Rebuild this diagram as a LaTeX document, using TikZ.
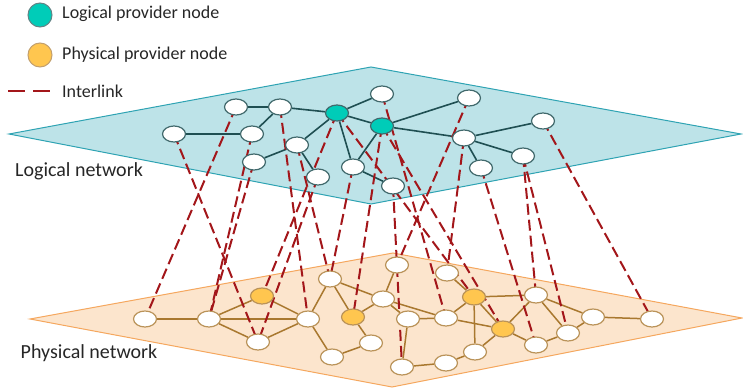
\documentclass[tikz,border=0pt]{standalone}
\usepackage{fontspec}
\setmainfont{Carlito}
\usetikzlibrary{shapes.geometric}

\definecolor{topfill}{HTML}{BDE3E8}
\definecolor{topline}{HTML}{2EA3B3}
\definecolor{botfill}{HTML}{FCE5CD}
\definecolor{botline}{HTML}{F5A75E}
\definecolor{ledgecol}{HTML}{1F4F52}
\definecolor{pedgecol}{HTML}{A9782F}
\definecolor{lprovcol}{HTML}{00CCB8}
\definecolor{pprovcol}{HTML}{FFC64F}
\definecolor{linkcol}{HTML}{A3161A}
\definecolor{txtcol}{HTML}{262626}

\pgfdeclarelayer{back}
\pgfdeclarelayer{mid}
\pgfsetlayers{back,mid,main}

\begin{document}
\begin{tikzpicture}[x=1pt, y=-1pt,
lnode/.style={ellipse, draw=ledgecol!85, line width=1.2pt, fill=white, minimum width=23pt, minimum height=16pt, inner sep=0pt},
lprov/.style={lnode, fill=lprovcol},
pnode/.style={ellipse, draw=pedgecol!80, line width=1.2pt, fill=white, minimum width=23pt, minimum height=16pt, inner sep=0pt},
pprov/.style={pnode, fill=pprovcol},
ledge/.style={draw=ledgecol, line width=1.6pt},
pedge/.style={draw=pedgecol, line width=1.5pt},
interlink/.style={draw=linkcol, line width=2pt, dash pattern=on 11pt off 5pt},
label/.style={text=txtcol, font=\fontsize{18}{21}\selectfont, inner sep=0pt},
netlabel/.style={text=txtcol, font=\fontsize{20}{24}\selectfont, inner sep=0pt}
]
\useasboundingbox (0,0) rectangle (743,390);

% legend
\node[circle, draw=ledgecol!70, line width=1pt, fill=lprovcol, minimum size=24pt] (legl) at (40,15) {};
\node[label, anchor=west] (legltxt) at (62,14) {Logical provider node};
\node[circle, draw=pedgecol!70, line width=1pt, fill=pprovcol, minimum size=24pt] (legp) at (40,55) {};
\node[label, anchor=west] (legptxt) at (62,55) {Physical provider node};
\coordinate (legia) at (8,91);
\coordinate (legib) at (50,91);
\draw[interlink, dash pattern=on 17pt off 8pt] (legia) -- (legib);
\node[label, anchor=west] (legitxt) at (62,91) {Interlink};

% planes
\begin{pgfonlayer}{back}
\draw[topline, fill=topfill, line width=1pt] (9,134) -- (371,67) -- (741,134) -- (371,204) -- cycle;
\draw[botline, fill=botfill, line width=1pt] (30,319) -- (393,253) -- (742,318) -- (392,387) -- cycle;
\end{pgfonlayer}

\node[netlabel] (lognet) at (79,171) {Logical network};
\node[netlabel] (phynet) at (89,353) {Physical network};

% logical network
\node[lnode] (l1) at (174,134) {};
\node[lnode] (l2) at (236,107) {};
\node[lnode] (l3) at (280,107) {};
\node[lnode] (l4) at (252,134) {};
\node[lnode] (l5) at (297,145) {};
\node[lnode] (l6) at (254,162) {};
\node[lnode] (l7) at (318,177) {};
\node[lprov] (p1) at (337,113) {};
\node[lprov] (p2) at (382,126) {};
\node[lnode] (l8) at (382,94) {};
\node[lnode] (l9) at (353,167) {};
\node[lnode] (l10) at (393,186) {};
\node[lnode] (l11) at (469,98) {};
\node[lnode] (l12) at (464,138) {};
\node[lnode] (l13) at (543,121) {};
\node[lnode] (l14) at (523,156) {};
\node[lnode] (l15) at (481,168) {};

% physical network
\node[pnode] (b1) at (145,319) {};
\node[pnode] (b2) at (209,319) {};
\node[pprov] (q1) at (262,296) {};
\node[pnode] (b3) at (258,342) {};
\node[pnode] (b4) at (308,319) {};
\node[pnode] (b5) at (330,279) {};
\node[pprov] (q2) at (353,317) {};
\node[pnode] (b6) at (332,357) {};
\node[pnode] (b7) at (397,265) {};
\node[pnode] (b8) at (383,299) {};
\node[pnode] (b9) at (371,343) {};
\node[pnode] (b10) at (408,319) {};
\node[pnode] (b11) at (447,273) {};
\node[pprov] (q3) at (474,297) {};
\node[pnode] (b12) at (446,318) {};
\node[pprov] (q4) at (503,329) {};
\node[pnode] (b13) at (536,295) {};
\node[pnode] (b14) at (593,317) {};
\node[pnode] (b15) at (652,319) {};
\node[pnode] (b16) at (568,333) {};
\node[pnode] (b17) at (536,345) {};
\node[pnode] (b18) at (475,352) {};
\node[pnode] (b19) at (446,363) {};
\node[pnode] (b20) at (402,367) {};

\begin{pgfonlayer}{mid}
\foreach \a/\b in {l1/l4, l4/l3, l2/l3, l3/p1, p1/l8, p1/p2, p1/l5, l5/l6, l5/l7, p1/l9, p2/l9, l9/l10, p2/l11, p2/l12, l12/l13, l12/l14, l12/l15}
  \draw[ledge] (\a) -- (\b);
\foreach \a/\b in {b1/b2, b2/b4, b2/q1, b2/b3, q1/b4, b3/b4, b4/b5, b4/b6, b5/b8, b5/q2, q2/b8, q2/b9, b9/b6, b7/b8, b8/b10, b8/b12, b10/b12, b10/b20, b20/b19, b19/b18, b18/q4, b18/q3, b12/q3, b11/q3, q3/q4, q3/b13, b12/q4, q4/b13, q4/b17, b13/b16, b13/b14, b17/b16, b16/b14, b14/b15}
  \draw[pedge] (\a) -- (\b);
% interlinks
\foreach \a/\b in {l1/b3, l2/b1, l3/b4, l4/b2, l6/b2, l5/b5, l7/b3, p1/q1, p1/q3, p2/q2, p2/q4, l8/b12, l9/b5, l10/b20, l11/b7, l12/b11, l13/b15, l14/b13, l14/b16, l15/b17}
  \draw[interlink] (\a.center) -- (\b.center);
\end{pgfonlayer}
\end{tikzpicture}
\end{document}
